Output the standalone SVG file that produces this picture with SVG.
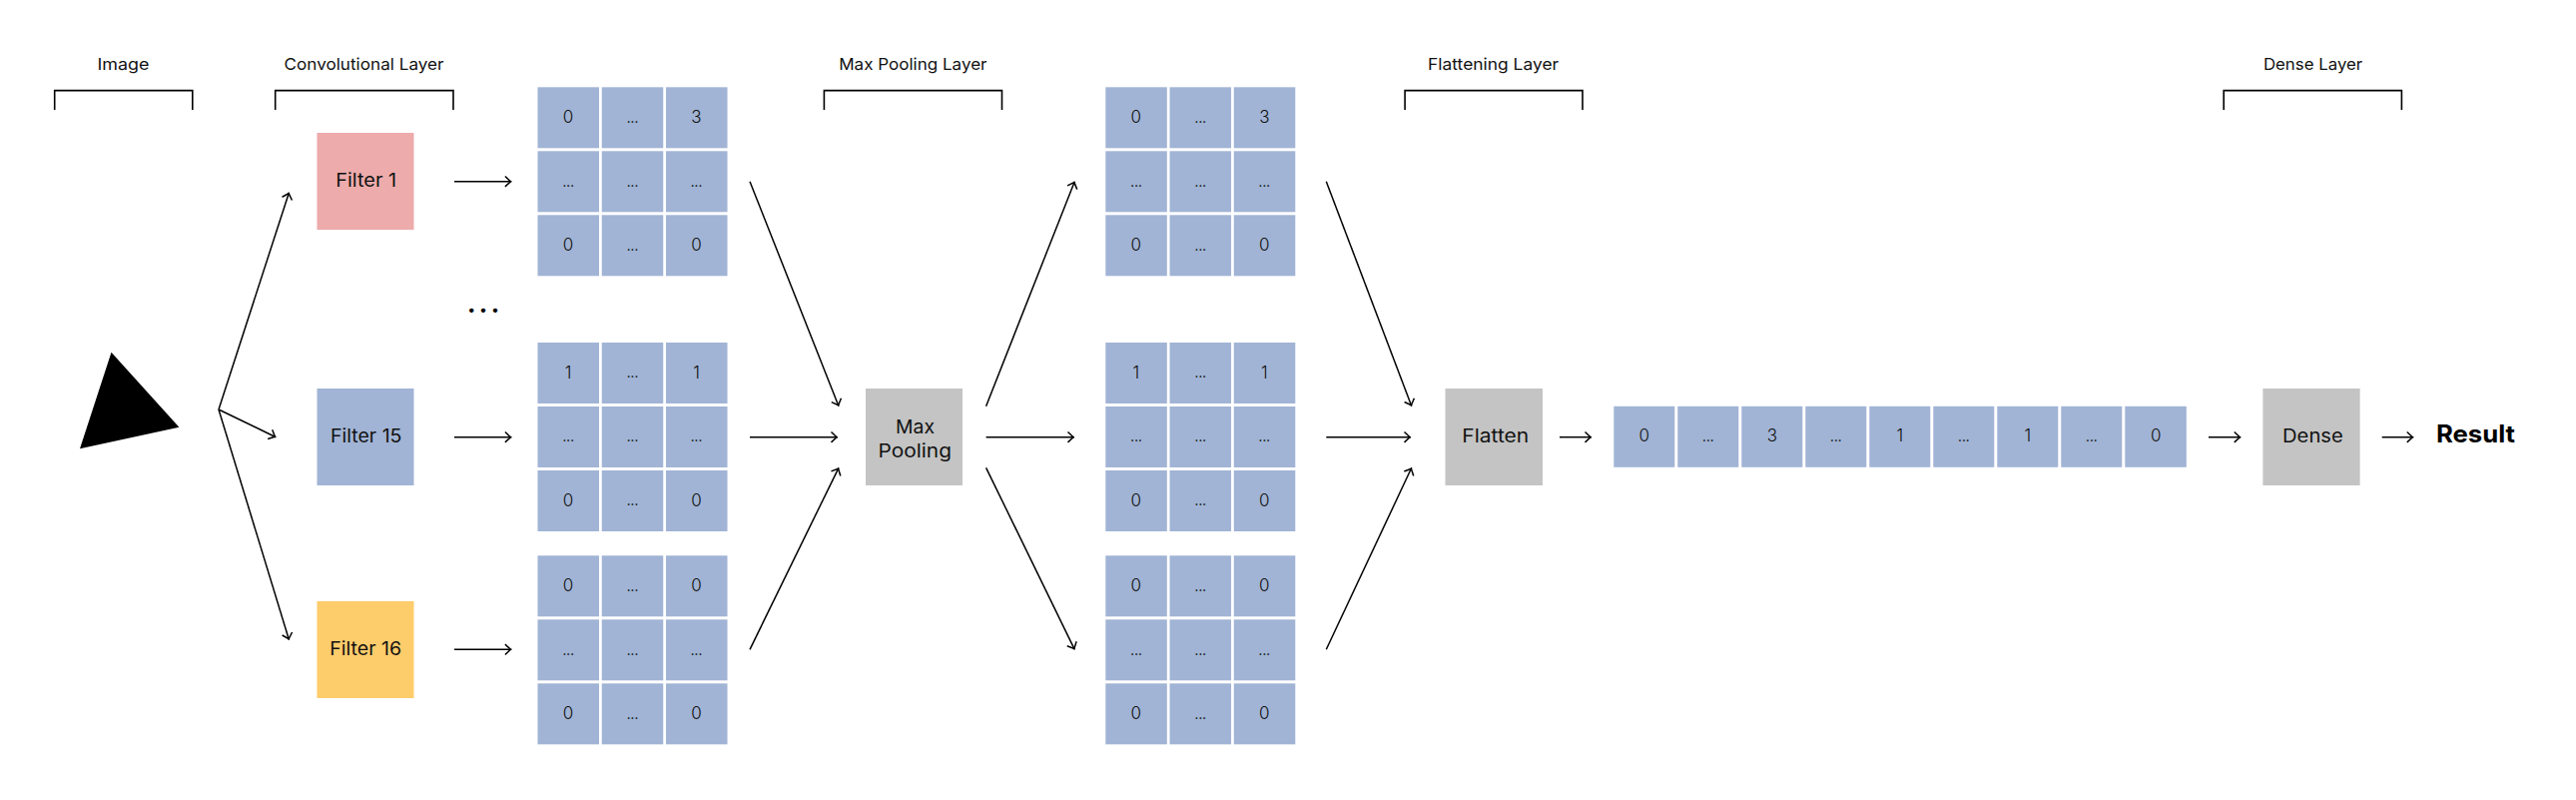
<svg xmlns="http://www.w3.org/2000/svg" width="2580" height="801" viewBox="0 0 2580 801">
<style>
text{font-family:Inter,"Liberation Sans",sans-serif;fill:#111}
.lb{font-size:16.5px;font-weight:400}
.nd{font-size:18.5px;font-weight:400;text-anchor:middle}
.v{font-size:17px;font-weight:300;text-anchor:middle}
.d{font-size:12px;font-weight:600;text-anchor:middle}
.c{fill:#a1b4d5}
.cr{fill:none;stroke:#000;stroke-width:1.6}
.ar{fill:none;stroke:#000;stroke-width:1.5;marker-end:url(#a)}
.g{fill:#c4c4c4}
</style>
<defs>
<marker id="a" markerUnits="userSpaceOnUse" markerWidth="16" markerHeight="16" refX="10" refY="8" orient="auto" overflow="visible"><path d="M3.5,2.8 L9,8 L3.5,13.2" fill="none" stroke="#000" stroke-width="1.5"/></marker>
<g id="r"><rect class="c" width="61.5" height="61"/><rect class="c" x="64.25" width="61.5" height="61"/><rect class="c" x="128.5" width="61.5" height="61"/></g>
</defs>
<rect width="2580" height="801" fill="#fff"/>
<g id="labels">
<g id="lbl-image"><text class="lb" x="97.4" y="70" textLength="52" lengthAdjust="spacingAndGlyphs">Image</text><path class="cr" d="M54.7,110V90.6H192.8V110"/></g>
<g id="lbl-conv"><text class="lb" x="284.5" y="70" textLength="160" lengthAdjust="spacingAndGlyphs">Convolutional Layer</text><path class="cr" d="M275.7,110V90.6H454V110"/></g>
<g id="lbl-pool"><text class="lb" x="840.2" y="70" textLength="148.3" lengthAdjust="spacingAndGlyphs">Max Pooling Layer</text><path class="cr" d="M825.4,110V90.6H1003.5V110"/></g>
<g id="lbl-flat"><text class="lb" x="1430.1" y="70" textLength="131" lengthAdjust="spacingAndGlyphs">Flattening Layer</text><path class="cr" d="M1407.1,110V90.6H1585V110"/></g>
<g id="lbl-dense"><text class="lb" x="2266.9" y="70" textLength="99.3" lengthAdjust="spacingAndGlyphs">Dense Layer</text><path class="cr" d="M2227.2,110V90.6H2405.4V110"/></g>
</g>
<g id="connectors">
<path class="ar" d="M219,410L289.5,192.7"/><path class="ar" d="M219,410L276.3,437.7"/><path class="ar" d="M219,410L289.5,640.7"/>
<path class="ar" d="M455,181.7H512.4"/><path class="ar" d="M455,437.7H512.4"/><path class="ar" d="M455,650.3H512.4"/>
<path class="ar" d="M751,181.7L840,406.7"/><path class="ar" d="M751,437.7H839"/><path class="ar" d="M751,650.3L840,468.3"/>
<path class="ar" d="M987.6,406.7L1076.3,181.7"/><path class="ar" d="M987.6,437.7H1076"/><path class="ar" d="M987.6,468.3L1076.3,650.3"/>
<path class="ar" d="M1328.3,181.7L1413.8,406.7"/><path class="ar" d="M1328.3,437.7H1413"/><path class="ar" d="M1328.3,650.3L1413.8,468.3"/>
<path class="ar" d="M1562,437.7H1594"/><path class="ar" d="M2212,437.7H2244.3"/><path class="ar" d="M2385.7,437.7H2417.3"/>
</g>
<g id="image"><polygon points="111.5,352.7 179.4,427.7 80,449.3" fill="#000"/></g>
<g id="filter-1"><rect x="317.5" y="133" width="97" height="97" fill="#edabab"/><text class="nd" x="366.7" y="187" textLength="61" lengthAdjust="spacingAndGlyphs">Filter 1</text></g>
<g id="filter-15"><rect x="317.5" y="389" width="97" height="97" fill="#a1b4d5"/><text class="nd" x="366.7" y="443.3" textLength="71.5" lengthAdjust="spacingAndGlyphs">Filter 15</text></g>
<g id="filter-16"><rect x="317.5" y="602" width="97" height="97" fill="#fdcc6b"/><text class="nd" x="366.2" y="656" textLength="72" lengthAdjust="spacingAndGlyphs">Filter 16</text></g>
<g id="dots-between"><text x="485.8" y="312.6" font-size="24" font-weight="800" text-anchor="middle" letter-spacing="3.4" style="fill:#000">...</text></g>
<g id="grid-a1" transform="translate(538.5,87.3)">
<use href="#r"/><use href="#r" y="64"/><use href="#r" y="128"/>
<text class="v" x="30.5" y="35.9">0</text><text class="d" x="95" y="35.3">...</text><text class="v" x="159" y="35.9">3</text>
<text class="d" x="30.75" y="99.3">...</text><text class="d" x="95" y="99.3">...</text><text class="d" x="159" y="99.3">...</text>
<text class="v" x="30.5" y="163.9">0</text><text class="d" x="95" y="163.3">...</text><text class="v" x="159" y="163.9">0</text>
</g>
<g id="grid-a2" transform="translate(538.5,343)">
<use href="#r"/><use href="#r" y="64"/><use href="#r" y="128"/>
<text class="v" x="30.5" y="35.9">1</text><text class="d" x="95" y="35.3">...</text><text class="v" x="159" y="35.9">1</text>
<text class="d" x="30.75" y="99.3">...</text><text class="d" x="95" y="99.3">...</text><text class="d" x="159" y="99.3">...</text>
<text class="v" x="30.5" y="163.9">0</text><text class="d" x="95" y="163.3">...</text><text class="v" x="159" y="163.9">0</text>
</g>
<g id="grid-a3" transform="translate(538.5,556.3)">
<use href="#r"/><use href="#r" y="64"/><use href="#r" y="128"/>
<text class="v" x="30.5" y="35.9">0</text><text class="d" x="95" y="35.3">...</text><text class="v" x="159" y="35.9">0</text>
<text class="d" x="30.75" y="99.3">...</text><text class="d" x="95" y="99.3">...</text><text class="d" x="159" y="99.3">...</text>
<text class="v" x="30.5" y="163.9">0</text><text class="d" x="95" y="163.3">...</text><text class="v" x="159" y="163.9">0</text>
</g>
<g id="max-pooling"><rect class="g" x="867" y="389" width="97" height="97"/><text class="nd" x="916.5" y="434" textLength="39" lengthAdjust="spacingAndGlyphs">Max</text><text class="nd" x="916.2" y="458.3" textLength="73.5" lengthAdjust="spacingAndGlyphs">Pooling</text></g>
<g id="grid-b1" transform="translate(1107.3,87.3)">
<use href="#r"/><use href="#r" y="64"/><use href="#r" y="128"/>
<text class="v" x="30.5" y="35.9">0</text><text class="d" x="95" y="35.3">...</text><text class="v" x="159" y="35.9">3</text>
<text class="d" x="30.75" y="99.3">...</text><text class="d" x="95" y="99.3">...</text><text class="d" x="159" y="99.3">...</text>
<text class="v" x="30.5" y="163.9">0</text><text class="d" x="95" y="163.3">...</text><text class="v" x="159" y="163.9">0</text>
</g>
<g id="grid-b2" transform="translate(1107.3,343)">
<use href="#r"/><use href="#r" y="64"/><use href="#r" y="128"/>
<text class="v" x="30.5" y="35.9">1</text><text class="d" x="95" y="35.3">...</text><text class="v" x="159" y="35.9">1</text>
<text class="d" x="30.75" y="99.3">...</text><text class="d" x="95" y="99.3">...</text><text class="d" x="159" y="99.3">...</text>
<text class="v" x="30.5" y="163.9">0</text><text class="d" x="95" y="163.3">...</text><text class="v" x="159" y="163.9">0</text>
</g>
<g id="grid-b3" transform="translate(1107.3,556.3)">
<use href="#r"/><use href="#r" y="64"/><use href="#r" y="128"/>
<text class="v" x="30.5" y="35.9">0</text><text class="d" x="95" y="35.3">...</text><text class="v" x="159" y="35.9">0</text>
<text class="d" x="30.75" y="99.3">...</text><text class="d" x="95" y="99.3">...</text><text class="d" x="159" y="99.3">...</text>
<text class="v" x="30.5" y="163.9">0</text><text class="d" x="95" y="163.3">...</text><text class="v" x="159" y="163.9">0</text>
</g>
<g id="flatten"><rect class="g" x="1447.5" y="389" width="97.5" height="97"/><text class="nd" x="1497.8" y="443.3" textLength="67" lengthAdjust="spacingAndGlyphs">Flatten</text></g>
<g id="vector" transform="translate(1616.3,406.8)">
<rect class="c" x="0" width="61" height="61"/><rect class="c" x="64" width="61" height="61"/><rect class="c" x="128" width="61" height="61"/><rect class="c" x="192" width="61" height="61"/><rect class="c" x="256" width="61" height="61"/><rect class="c" x="320" width="61" height="61"/><rect class="c" x="384" width="61" height="61"/><rect class="c" x="448" width="61" height="61"/><rect class="c" x="512" width="61.5" height="61"/>
<text class="v" x="30.5" y="35.5">0</text><text class="d" x="94.5" y="35.5">...</text><text class="v" x="158.5" y="35.5">3</text><text class="d" x="222.5" y="35.5">...</text><text class="v" x="286.5" y="35.5">1</text><text class="d" x="350.5" y="35.5">...</text><text class="v" x="414.5" y="35.5">1</text><text class="d" x="478.5" y="35.5">...</text><text class="v" x="543" y="35.5">0</text>
</g>
<g id="dense"><rect class="g" x="2266.4" y="389" width="97.2" height="97"/><text class="nd" x="2316.4" y="443.3" textLength="60.7" lengthAdjust="spacingAndGlyphs">Dense</text></g>
<g id="result"><text x="2440" y="442.7" font-size="24" font-weight="700" style="fill:#000" textLength="79" lengthAdjust="spacingAndGlyphs">Result</text></g>
</svg>
